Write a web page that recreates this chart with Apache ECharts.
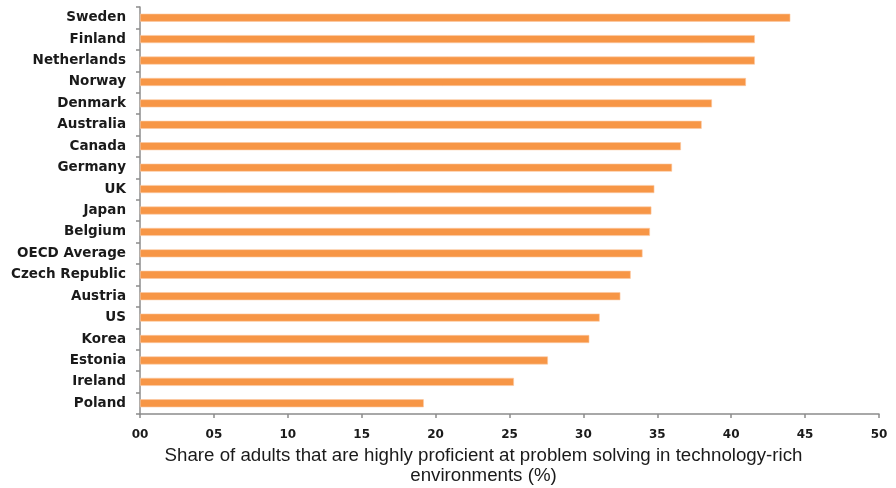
<!DOCTYPE html>
<html>
<head>
<meta charset="utf-8">
<script src="https://cdn.jsdelivr.net/npm/echarts@6/dist/echarts.min.js"></script>
<style>
  html, body { margin: 0; padding: 0; background: #fff; }
  #chart { width: 896px; height: 488px; }
</style>
</head>
<body>
<div id="chart"></div>
<script>
// Countries, top to bottom
const countries = [
  'Sweden', 'Finland', 'Netherlands', 'Norway', 'Denmark', 'Australia',
  'Canada', 'Germany', 'UK', 'Japan', 'Belgium', 'OECD Average',
  'Czech Republic', 'Austria', 'US', 'Korea', 'Estonia', 'Ireland', 'Poland'
];

// Share of adults highly proficient (%)
const shares = [
  44.0, 41.6, 41.6, 41.0, 38.7, 38.0,
  36.6, 36.0, 34.8, 34.6, 34.5, 34.0,
  33.2, 32.5, 31.1, 30.4, 27.6, 25.3, 19.2
];

// Value axis tick labels
const tickLabels = ['00', '05', '10', '15', '20', '25', '30', '35', '40', '45', '50'];

const axisName = 'Share of adults that are highly proficient at problem solving in technology-rich\nenvironments (%)';

const chart = echarts.init(document.getElementById('chart'), null, { renderer: 'canvas' });

chart.setOption({
  animation: false,
  grid: {
    left: 140, right: 17, top: 7, bottom: 74,
    containLabel: false,
    outerBoundsMode: 'none'
  },
  xAxis: {
    type: 'value',
    min: 0,
    max: 50,
    interval: 5,
    name: axisName,
    nameLocation: 'middle',
    nameGap: 31,
    nameTextStyle: {
      fontFamily: 'Liberation Sans, Arial, sans-serif',
      fontSize: 18.7,
      color: '#1a1a1a',
      lineHeight: 20,
      padding: [0, 52, 0, 0]
    },
    axisLine: { show: true, lineStyle: { color: '#8c8c8c', width: 1.5 } },
    axisTick: { show: true, length: 4, lineStyle: { color: '#8c8c8c', width: 1.5 } },
    axisLabel: {
      margin: 15,
      fontFamily: 'DejaVu Sans, sans-serif',
      fontWeight: 'bold',
      fontSize: 12,
      color: '#1a1a1a',
      formatter: (v) => tickLabels[Math.round(v / 5)]
    },
    splitLine: { show: false }
  },
  yAxis: {
    type: 'category',
    data: countries,
    inverse: true,
    axisLine: { show: true, lineStyle: { color: '#8c8c8c', width: 1.5 } },
    axisTick: { show: true, length: 4, lineStyle: { color: '#8c8c8c', width: 1.5 } },
    axisLabel: {
      margin: 14,
      fontFamily: 'DejaVu Sans, sans-serif',
      fontWeight: 'bold',
      fontSize: 13.5,
      color: '#1a1a1a'
    }
  },
  series: [{
    type: 'bar',
    data: shares,
    barWidth: 8,
    itemStyle: {
      color: '#f79646',
      borderColor: '#fbc9a2',
      borderWidth: 0.6
    }
  }]
});
</script>
</body>
</html>
